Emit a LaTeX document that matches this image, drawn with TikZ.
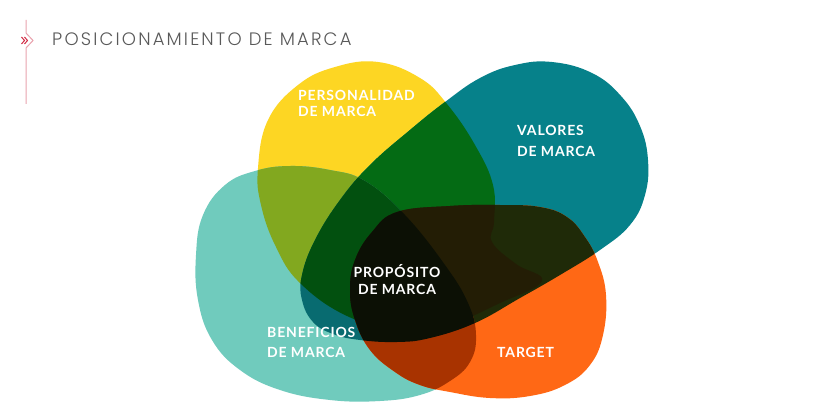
\documentclass[tikz,border=0pt]{standalone}
\usepackage{fontspec}
\usepackage{tikz}
\setmainfont{Poppins}
\newfontfamily\labelfont[LetterSpace=6]{Lato}
\IfFontExistsTF{Poppins Light}{\newfontfamily\titlefont[LetterSpace=12]{Poppins Light}}{\newfontfamily\titlefont[LetterSpace=12]{Poppins}}

\definecolor{cY}{HTML}{FDD623}
\definecolor{cT}{HTML}{06818A}
\definecolor{cM}{HTML}{70CBBD}
\definecolor{cO}{HTML}{FF6815}
\definecolor{cYT}{HTML}{046B14}
\definecolor{cYM}{HTML}{82A81F}
\definecolor{cTM}{HTML}{086B70}
\definecolor{cYTM}{HTML}{02500F}
\definecolor{cTO}{HTML}{1F2A08}
\definecolor{cYTO}{HTML}{231D05}
\definecolor{cMO}{HTML}{A83300}
\definecolor{cdark}{HTML}{0C1005}
\definecolor{cpink}{HTML}{E9A3AE}
\definecolor{cred}{HTML}{D22A44}

\newcommand{\tagsize}[1]{\labelfont\bfseries\fontsize{14}{#1}\selectfont}
\tikzstyle{tag} = [font=\tagsize{16}, text=white, align=left, inner sep=0pt, anchor=base west]
\tikzstyle{head} = [font=\titlefont\fontsize{18}{20}\selectfont, text=black!65, inner sep=0pt, anchor=base west]

% blob outlines, in pixels (y grows downwards)
\def\blobY{plot[smooth cycle, tension=0.7] coordinates {(378,62) (420,78) (447,104) (475,145) (493,185) (494,222) (492,242) (516,264) (542,281) (500,303) (450,324) (400,330) (347,316) (300,283) (276,247) (261,205) (258,168) (268,120) (298,85) (335,67)}}
\def\blobT{plot[smooth cycle, tension=0.7] coordinates {(552,62) (592,73) (621,96) (640,126) (648,160) (645,195) (630,225) (600,250) (560,275) (520,298) (475,323) (430,338) (397,342) (360,340) (333,334) (313,322) (302,300) (302,275) (315,240) (340,200) (370,165) (410,130) (445,102) (480,78) (515,65)}}
\def\blobM{plot[smooth cycle, tension=0.7] coordinates {(290,166) (330,170) (365,181) (405,215) (445,265) (468,303) (476,335) (470,362) (450,381) (420,395) (380,401) (330,400) (280,390) (240,370) (212,340) (198,300) (196,255) (203,215) (225,185) (255,171)}}
\def\blobO{plot[smooth cycle, tension=0.7] coordinates {(397,212) (450,206) (500,205) (540,207) (567,217) (585,237) (598,262) (606,295) (603,335) (590,365) (565,385) (530,396) (490,398) (450,392) (420,385) (395,372) (370,350) (355,320) (350,290) (355,260) (372,232)}}

\begin{document}
\begin{tikzpicture}[x=1pt, y=-1pt]
  \useasboundingbox (0,0) rectangle (820,412);
  \fill[white] (0,0) rectangle (820,412);

  % heading
  \draw[cpink, line width=1pt] (26,20) -- (26,33) -- (33,40.5) -- (26,48) -- (26,104);
  \draw[cred, line width=1pt] (21.5,37) -- (24.5,40.5) -- (21.5,44);
  \draw[cred, line width=1pt] (24.5,37) -- (27.5,40.5) -- (24.5,44);
  \node (h) at (52,46) [head] {POSICIONAMIENTO DE MARCA};

  % the four blobs
  \fill[cY] \blobY;
  \fill[cT] \blobT;
  \fill[cM] \blobM;
  \fill[cO] \blobO;

  % overlaps of two
  \begin{scope}
    \clip \blobY;
    \fill[cYT] \blobT;
    \fill[cYM] \blobM;
  \end{scope}
  \begin{scope}
    \clip \blobT;
    \fill[cTM] \blobM;
    \fill[cTO] \blobO;
  \end{scope}
  \begin{scope}
    \clip \blobM;
    \fill[cMO] \blobO;
  \end{scope}

  % overlaps of three and four
  \begin{scope}
    \clip \blobY;
    \clip \blobT;
    \fill[cYTM] \blobM;
    \fill[cYTO] \blobO;
  \end{scope}
  \begin{scope}
    \clip \blobT;
    \clip \blobM;
    \fill[cdark] \blobO;
  \end{scope}

  % labels
  \node (p) at (298,117) [tag] {PERSONALIDAD\\DE MARCA};
  \node (v) at (517,157) [tag, font=\tagsize{21}] {VALORES\\DE MARCA};
  \node (b) at (267,357) [tag, font=\tagsize{20}] {BENEFICIOS\\DE MARCA};
  \node (t) at (497,357) [tag] {TARGET};
  \node (c) at (397,294) [tag, font=\tagsize{17}, align=center, anchor=base] {PROPÓSITO\\DE MARCA};
\end{tikzpicture}
\end{document}
